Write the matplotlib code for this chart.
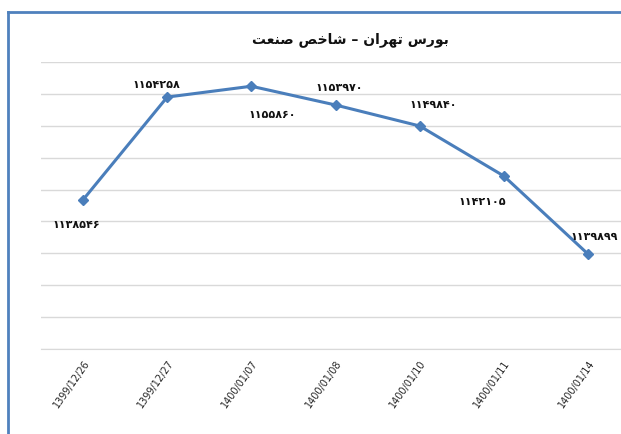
import numpy as np
import matplotlib
matplotlib.use("Agg")
import matplotlib.pyplot as plt
from matplotlib.lines import Line2D

# data
dates = ["1399/12/26", "1399/12/27", "1400/01/07", "1400/01/08",
         "1400/01/10", "1400/01/11", "1400/01/14"]
index_values = [1143400, 1159500, 1161200, 1158260, 1154970, 1147130, 1134900]
value_labels = [1138546, 1154258, 1155860, 1153970, 1149840, 1142105, 1139899]
title_text = "بورس تهران – شاخص صنعت"

# label offsets in pixels (dx, dy)
label_offsets = [(-7, -24), (-11, 13), (21, -28), (4, 18), (14, 22), (-22, -25), (6, 18)]

# minimal arabic shaping (matplotlib has no shaping engine)
FORMS = {  # isolated, final, initial, medial
    'ا': ('\uFE8D', '\uFE8E', None, None),
    'ب': ('\uFE8F', '\uFE90', '\uFE91', '\uFE92'),
    'ت': ('\uFE95', '\uFE96', '\uFE97', '\uFE98'),
    'خ': ('\uFEA5', '\uFEA6', '\uFEA7', '\uFEA8'),
    'ر': ('\uFEAD', '\uFEAE', None, None),
    'س': ('\uFEB1', '\uFEB2', '\uFEB3', '\uFEB4'),
    'ش': ('\uFEB5', '\uFEB6', '\uFEB7', '\uFEB8'),
    'ص': ('\uFEB9', '\uFEBA', '\uFEBB', '\uFEBC'),
    'ع': ('\uFEC9', '\uFECA', '\uFECB', '\uFECC'),
    'ن': ('\uFEE5', '\uFEE6', '\uFEE7', '\uFEE8'),
    'ه': ('\uFEE9', '\uFEEA', '\uFEEB', '\uFEEC'),
    'و': ('\uFEED', '\uFEEE', None, None),
}

def shape(text):
    out = []
    for i, c in enumerate(text):
        if c not in FORMS:
            out.append(c)
            continue
        prev = text[i-1] if i > 0 else ''
        nxt = text[i+1] if i + 1 < len(text) else ''
        joinPrev = prev in FORMS and FORMS[prev][2] is not None
        joinNext = nxt in FORMS and FORMS[c][2] is not None
        f = FORMS[c]
        if joinPrev and joinNext:
            out.append(f[3])
        elif joinPrev:
            out.append(f[1])
        elif joinNext:
            out.append(f[2])
        else:
            out.append(f[0])
    return ''.join(out)[::-1]

def fa_digits(n):
    return str(n).translate(str.maketrans("0123456789", "۰۱۲۳۴۵۶۷۸۹"))

plt.rcParams['font.family'] = ['DejaVu Sans']

fig = plt.figure(figsize=(6.21, 4.35), dpi=100)
ax = fig.add_axes([41/621, 85/435, 589/621, 287/435])

x = np.arange(len(dates))
ax.plot(x, index_values, color='#4a7ebb', lw=2.2, marker='D', ms=5,
        mfc='#4a7ebb', mec='#4a7ebb', zorder=3)

for xi, v, lab, off in zip(x, index_values, value_labels, label_offsets):
    ax.annotate(fa_digits(lab), (xi, v), xytext=off, textcoords='offset pixels',
                ha='center', va='center', fontsize=8, fontweight='bold', color='#111111')

ax.set_xlim(-0.5, 6.5)
ax.set_ylim(1120000, 1165000)
ax.set_yticks(np.arange(1120000, 1165001, 5000))
ax.set_yticklabels([])
ax.set_xticks(x)
ax.set_xticklabels(dates, rotation=55, ha='right', rotation_mode='anchor',
                   fontsize=7, color='#262626')
ax.tick_params(length=0, pad=6)
ax.grid(axis='y', color='#d9d9d9', lw=1)
ax.set_axisbelow(True)
for s in ['top', 'right', 'left']:
    ax.spines[s].set_visible(False)
ax.spines['bottom'].set_color('#d9d9d9')

fig.text(350/621, 1 - 40/435, shape(title_text), ha='center', va='center',
         fontsize=10, fontweight='bold', color='#111111')

# chart border (left and top edges only visible)
top = 1 - 13/435
fig.add_artist(Line2D([8/621, 8/621], [0, top], transform=fig.transFigure,
                      color='#4f81bd', lw=2, solid_capstyle='projecting'))
fig.add_artist(Line2D([8/621, 1.0], [top, top], transform=fig.transFigure,
                      color='#4f81bd', lw=2, solid_capstyle='projecting'))

fig.savefig('out.png', dpi=100)
